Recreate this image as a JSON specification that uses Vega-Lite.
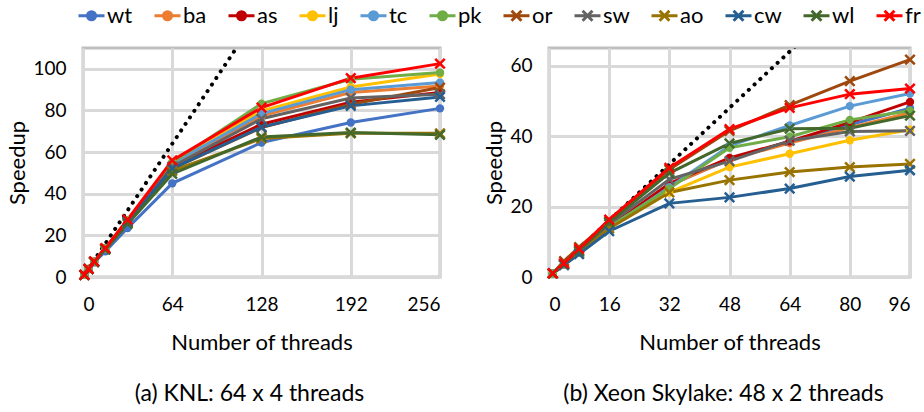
{
  "$schema": "https://vega.github.io/schema/vega-lite/v6.json",
  "background": "white",
  "padding": {"left": 5, "top": 1, "right": 0, "bottom": 2},
  "config": {
    "font": "Lato",
    "view": {"stroke": "#bfbfbf", "strokeWidth": 3},
    "axis": {"labelFont": "Lato", "labelFontSize": 19, "labelColor": "#000", "titleFont": "Lato", "titleFontSize": 22, "titleFontWeight": "normal", "titleColor": "#000", "grid": true, "gridColor": "#d9d9d9", "gridWidth": 3, "domain": false, "ticks": false},
    "axisX": {"labelPadding": 18, "titlePadding": 18},
    "axisY": {"labelPadding": 17, "titlePadding": 3},
    "legend": {"labelFont": "Lato", "labelFontSize": 22, "labelColor": "#000", "symbolSize": 676, "symbolStrokeWidth": 3, "labelOffset": 1, "columnPadding": 15},
    "title": {"font": "Lato", "fontSize": 23, "fontWeight": "normal", "color": "#000", "orient": "bottom", "offset": 30}
  },
  "datasets": {
    "knl": [
      {"s":"wt","t":1,"v":1},{"s":"wt","t":4,"v":3.7},{"s":"wt","t":8,"v":7},{"s":"wt","t":16,"v":12.3},{"s":"wt","t":32,"v":23.5},{"s":"wt","t":64,"v":45},{"s":"wt","t":128,"v":64.6},{"s":"wt","t":192,"v":74.2},{"s":"wt","t":256,"v":81},
      {"s":"ba","t":1,"v":1},{"s":"ba","t":4,"v":3.9},{"s":"ba","t":8,"v":7.4},{"s":"ba","t":16,"v":13.7},{"s":"ba","t":32,"v":27},{"s":"ba","t":64,"v":54},{"s":"ba","t":128,"v":77.4},{"s":"ba","t":192,"v":88.6},{"s":"ba","t":256,"v":91.8},
      {"s":"as","t":1,"v":1},{"s":"as","t":4,"v":3.9},{"s":"as","t":8,"v":7.4},{"s":"as","t":16,"v":13.6},{"s":"as","t":32,"v":26.8},{"s":"as","t":64,"v":53},{"s":"as","t":128,"v":73.4},{"s":"as","t":192,"v":84},{"s":"as","t":256,"v":88.6},
      {"s":"lj","t":1,"v":1},{"s":"lj","t":4,"v":3.9},{"s":"lj","t":8,"v":7.4},{"s":"lj","t":16,"v":13.8},{"s":"lj","t":32,"v":27.2},{"s":"lj","t":64,"v":55},{"s":"lj","t":128,"v":79.8},{"s":"lj","t":192,"v":91.3},{"s":"lj","t":256,"v":97.5},
      {"s":"tc","t":1,"v":1},{"s":"tc","t":4,"v":3.9},{"s":"tc","t":8,"v":7.4},{"s":"tc","t":16,"v":13.8},{"s":"tc","t":32,"v":27.2},{"s":"tc","t":64,"v":54.5},{"s":"tc","t":128,"v":78.5},{"s":"tc","t":192,"v":90},{"s":"tc","t":256,"v":93.4},
      {"s":"pk","t":1,"v":1},{"s":"pk","t":4,"v":3.9},{"s":"pk","t":8,"v":7.4},{"s":"pk","t":16,"v":13.8},{"s":"pk","t":32,"v":27.3},{"s":"pk","t":64,"v":55},{"s":"pk","t":128,"v":83.3},{"s":"pk","t":192,"v":95},{"s":"pk","t":256,"v":98.2},
      {"s":"or","t":1,"v":1},{"s":"or","t":4,"v":3.9},{"s":"or","t":8,"v":7.4},{"s":"or","t":16,"v":13.6},{"s":"or","t":32,"v":26.5},{"s":"or","t":64,"v":52},{"s":"or","t":128,"v":71.8},{"s":"or","t":192,"v":83},{"s":"or","t":256,"v":91},
      {"s":"sw","t":1,"v":1},{"s":"sw","t":4,"v":3.9},{"s":"sw","t":8,"v":7.4},{"s":"sw","t":16,"v":13.6},{"s":"sw","t":32,"v":26.8},{"s":"sw","t":64,"v":53},{"s":"sw","t":128,"v":76},{"s":"sw","t":192,"v":86},{"s":"sw","t":256,"v":87.8},
      {"s":"ao","t":1,"v":1},{"s":"ao","t":4,"v":3.8},{"s":"ao","t":8,"v":7.2},{"s":"ao","t":16,"v":13.3},{"s":"ao","t":32,"v":26},{"s":"ao","t":64,"v":51},{"s":"ao","t":128,"v":66.5},{"s":"ao","t":192,"v":69},{"s":"ao","t":256,"v":69},
      {"s":"cw","t":1,"v":1},{"s":"cw","t":4,"v":3.9},{"s":"cw","t":8,"v":7.3},{"s":"cw","t":16,"v":13.5},{"s":"cw","t":32,"v":26.5},{"s":"cw","t":64,"v":52},{"s":"cw","t":128,"v":72},{"s":"cw","t":192,"v":82.2},{"s":"cw","t":256,"v":86.5},
      {"s":"wl","t":1,"v":1},{"s":"wl","t":4,"v":3.8},{"s":"wl","t":8,"v":7.2},{"s":"wl","t":16,"v":13.2},{"s":"wl","t":32,"v":25.5},{"s":"wl","t":64,"v":49.5},{"s":"wl","t":128,"v":67.3},{"s":"wl","t":192,"v":69.4},{"s":"wl","t":256,"v":68.3},
      {"s":"fr","t":1,"v":1},{"s":"fr","t":4,"v":3.9},{"s":"fr","t":8,"v":7.5},{"s":"fr","t":16,"v":13.9},{"s":"fr","t":32,"v":27.6},{"s":"fr","t":64,"v":56},{"s":"fr","t":128,"v":81.4},{"s":"fr","t":192,"v":95.5},{"s":"fr","t":256,"v":102.5}
    ],
    "sky": [
      {"s":"wt","t":1,"v":1},{"s":"wt","t":4,"v":3.6},{"s":"wt","t":8,"v":7},{"s":"wt","t":16,"v":14},{"s":"wt","t":32,"v":26},{"s":"wt","t":48,"v":33.4},{"s":"wt","t":64,"v":38.5},{"s":"wt","t":80,"v":43.2},{"s":"wt","t":96,"v":47.9},
      {"s":"ba","t":1,"v":1},{"s":"ba","t":4,"v":3.6},{"s":"ba","t":8,"v":7},{"s":"ba","t":16,"v":14},{"s":"ba","t":32,"v":26},{"s":"ba","t":48,"v":33.4},{"s":"ba","t":64,"v":38},{"s":"ba","t":80,"v":42.4},{"s":"ba","t":96,"v":46.6},
      {"s":"as","t":1,"v":1},{"s":"as","t":4,"v":3.6},{"s":"as","t":8,"v":7},{"s":"as","t":16,"v":14.2},{"s":"as","t":32,"v":26.5},{"s":"as","t":48,"v":33.8},{"s":"as","t":64,"v":38.5},{"s":"as","t":80,"v":43.9},{"s":"as","t":96,"v":49.7},
      {"s":"lj","t":1,"v":1},{"s":"lj","t":4,"v":3.6},{"s":"lj","t":8,"v":7},{"s":"lj","t":16,"v":14},{"s":"lj","t":32,"v":24},{"s":"lj","t":48,"v":31.2},{"s":"lj","t":64,"v":35},{"s":"lj","t":80,"v":38.8},{"s":"lj","t":96,"v":41.8},
      {"s":"tc","t":1,"v":1},{"s":"tc","t":4,"v":3.6},{"s":"tc","t":8,"v":7},{"s":"tc","t":16,"v":14},{"s":"tc","t":32,"v":25.5},{"s":"tc","t":48,"v":37.2},{"s":"tc","t":64,"v":43},{"s":"tc","t":80,"v":48.5},{"s":"tc","t":96,"v":52.1},
      {"s":"pk","t":1,"v":1},{"s":"pk","t":4,"v":3.6},{"s":"pk","t":8,"v":7},{"s":"pk","t":16,"v":14.3},{"s":"pk","t":32,"v":25.1},{"s":"pk","t":48,"v":36.7},{"s":"pk","t":64,"v":39.8},{"s":"pk","t":80,"v":44.6},{"s":"pk","t":96,"v":47.2},
      {"s":"or","t":1,"v":1},{"s":"or","t":4,"v":4.5},{"s":"or","t":8,"v":8.5},{"s":"or","t":16,"v":15.8},{"s":"or","t":32,"v":30.5},{"s":"or","t":48,"v":41.5},{"s":"or","t":64,"v":48.8},{"s":"or","t":80,"v":55.6},{"s":"or","t":96,"v":61.7},
      {"s":"sw","t":1,"v":1},{"s":"sw","t":4,"v":3.6},{"s":"sw","t":8,"v":7.2},{"s":"sw","t":16,"v":15},{"s":"sw","t":32,"v":27.7},{"s":"sw","t":48,"v":32.9},{"s":"sw","t":64,"v":38.7},{"s":"sw","t":80,"v":41.3},{"s":"sw","t":96,"v":41.5},
      {"s":"ao","t":1,"v":1},{"s":"ao","t":4,"v":3.5},{"s":"ao","t":8,"v":6.8},{"s":"ao","t":16,"v":13.8},{"s":"ao","t":32,"v":24},{"s":"ao","t":48,"v":27.5},{"s":"ao","t":64,"v":29.8},{"s":"ao","t":80,"v":31.2},{"s":"ao","t":96,"v":32.1},
      {"s":"cw","t":1,"v":1},{"s":"cw","t":4,"v":3.4},{"s":"cw","t":8,"v":6.5},{"s":"cw","t":16,"v":13},{"s":"cw","t":32,"v":20.9},{"s":"cw","t":48,"v":22.6},{"s":"cw","t":64,"v":25.1},{"s":"cw","t":80,"v":28.5},{"s":"cw","t":96,"v":30.3},
      {"s":"wl","t":1,"v":1},{"s":"wl","t":4,"v":3.7},{"s":"wl","t":8,"v":7.5},{"s":"wl","t":16,"v":15.5},{"s":"wl","t":32,"v":29.5},{"s":"wl","t":48,"v":37.9},{"s":"wl","t":64,"v":42.1},{"s":"wl","t":80,"v":42.2},{"s":"wl","t":96,"v":45.8},
      {"s":"fr","t":1,"v":1},{"s":"fr","t":4,"v":3.9},{"s":"fr","t":8,"v":8},{"s":"fr","t":16,"v":16.3},{"s":"fr","t":32,"v":31},{"s":"fr","t":48,"v":42},{"s":"fr","t":64,"v":48},{"s":"fr","t":80,"v":51.9},{"s":"fr","t":96,"v":53.5}
    ],
    "idealKnl": [{"t":1,"v":1},{"t":112,"v":112}],
    "idealSky": [{"t":1,"v":1},{"t":66,"v":66}]
  },
  "spacing": 30,
  "hconcat": [
    {
      "width": 357, "height": 229,
      "title": {"text": "(a) KNL: 64 x 4 threads", "dx": -12},
      "layer": [
        {
          "data": {"name": "idealKnl"},
          "mark": {"type": "line", "color": "#000", "strokeWidth": 4, "strokeDash": [0.1, 7.8], "strokeCap": "round", "clip": true},
          "encoding": {
            "x": {"field": "t", "type": "quantitative", "scale": {"domain": [0, 256], "nice": false}, "axis": {"values": [0, 64, 128, 192, 256], "title": "Number of threads"}},
            "y": {"field": "v", "type": "quantitative", "scale": {"domain": [0, 110], "nice": false}, "axis": {"values": [0, 20, 40, 60, 80, 100], "title": "Speedup"}}
          }
        },
        {
          "data": {"name": "knl"},
          "mark": {"type": "line", "strokeWidth": 3},
          "encoding": {
            "x": {"field": "t", "type": "quantitative"},
            "y": {"field": "v", "type": "quantitative"},
            "color": {"field": "s", "type": "nominal", "sort": null,
              "scale": {"domain": ["wt","ba","as","lj","tc","pk","or","sw","ao","cw","wl","fr"], "range": ["#4472C4","#ED7D31","#C00000","#FFC000","#5B9BD5","#70AD47","#9E480E","#636363","#997300","#255E91","#43682B","#FF0000"]},
              "legend": {"title": null, "orient": "none", "direction": "horizontal", "legendX": -6, "legendY": -47,
                "encode": {"symbols": {"update": {
                  "shape": {"signal": "indexof(['wt','ba','as','lj','tc','pk'], datum.value) >= 0 ? 'M-1,0H1M0.31,0A0.31,0.31 0 1,1 -0.31,0A0.31,0.31 0 1,1 0.31,0Z' : 'M-1,0H1M-0.38,-0.38L0.38,0.38M-0.38,0.38L0.38,-0.38'"},
                  "fill": {"signal": "scale('color', datum.value)"},
                  "stroke": {"signal": "scale('color', datum.value)"},
                  "strokeWidth": {"value": 3},
                  "opacity": {"value": 1}
                }}}}
            },
            "order": {"field": "t", "type": "quantitative"}
          }
        },
        {
          "data": {"name": "knl"},
          "transform": [{"filter": "indexof(['wt','ba','as','lj','tc','pk'], datum.s) >= 0"}],
          "mark": {"type": "point", "filled": true, "opacity": 1, "shape": "circle", "size": 70},
          "encoding": {
            "x": {"field": "t", "type": "quantitative"},
            "y": {"field": "v", "type": "quantitative"},
            "color": {"field": "s", "type": "nominal", "sort": null}
          }
        },
        {
          "data": {"name": "knl"},
          "transform": [{"filter": "indexof(['wt','ba','as','lj','tc','pk'], datum.s) < 0"}],
          "mark": {"type": "point", "filled": false, "opacity": 1, "shape": "M-1,-1L1,1M-1,1L1,-1", "size": 90, "strokeWidth": 2.5},
          "encoding": {
            "x": {"field": "t", "type": "quantitative"},
            "y": {"field": "v", "type": "quantitative"},
            "color": {"field": "s", "type": "nominal", "sort": null}
          }
        }
      ]
    },
    {
      "width": 361, "height": 229,
      "title": {"text": "(b) Xeon Skylake: 48 x 2 threads", "dx": -6},
      "layer": [
        {
          "data": {"name": "idealSky"},
          "mark": {"type": "line", "color": "#000", "strokeWidth": 4, "strokeDash": [0.1, 7.8], "strokeCap": "round", "clip": true},
          "encoding": {
            "x": {"field": "t", "type": "quantitative", "scale": {"domain": [0, 96], "nice": false}, "axis": {"values": [0, 16, 32, 48, 64, 80, 96], "title": "Number of threads"}},
            "y": {"field": "v", "type": "quantitative", "scale": {"domain": [0, 65], "nice": false}, "axis": {"values": [0, 10, 20, 30, 40, 50, 60], "title": "Speedup"}}
          }
        },
        {
          "data": {"name": "sky"},
          "mark": {"type": "line", "strokeWidth": 3},
          "encoding": {
            "x": {"field": "t", "type": "quantitative"},
            "y": {"field": "v", "type": "quantitative"},
            "color": {"field": "s", "type": "nominal", "sort": null},
            "order": {"field": "t", "type": "quantitative"}
          }
        },
        {
          "data": {"name": "sky"},
          "transform": [{"filter": "indexof(['wt','ba','as','lj','tc','pk'], datum.s) >= 0"}],
          "mark": {"type": "point", "filled": true, "opacity": 1, "shape": "circle", "size": 70},
          "encoding": {
            "x": {"field": "t", "type": "quantitative"},
            "y": {"field": "v", "type": "quantitative"},
            "color": {"field": "s", "type": "nominal", "sort": null}
          }
        },
        {
          "data": {"name": "sky"},
          "transform": [{"filter": "indexof(['wt','ba','as','lj','tc','pk'], datum.s) < 0"}],
          "mark": {"type": "point", "filled": false, "opacity": 1, "shape": "M-1,-1L1,1M-1,1L1,-1", "size": 90, "strokeWidth": 2.5},
          "encoding": {
            "x": {"field": "t", "type": "quantitative"},
            "y": {"field": "v", "type": "quantitative"},
            "color": {"field": "s", "type": "nominal", "sort": null}
          }
        }
      ]
    }
  ]
}
